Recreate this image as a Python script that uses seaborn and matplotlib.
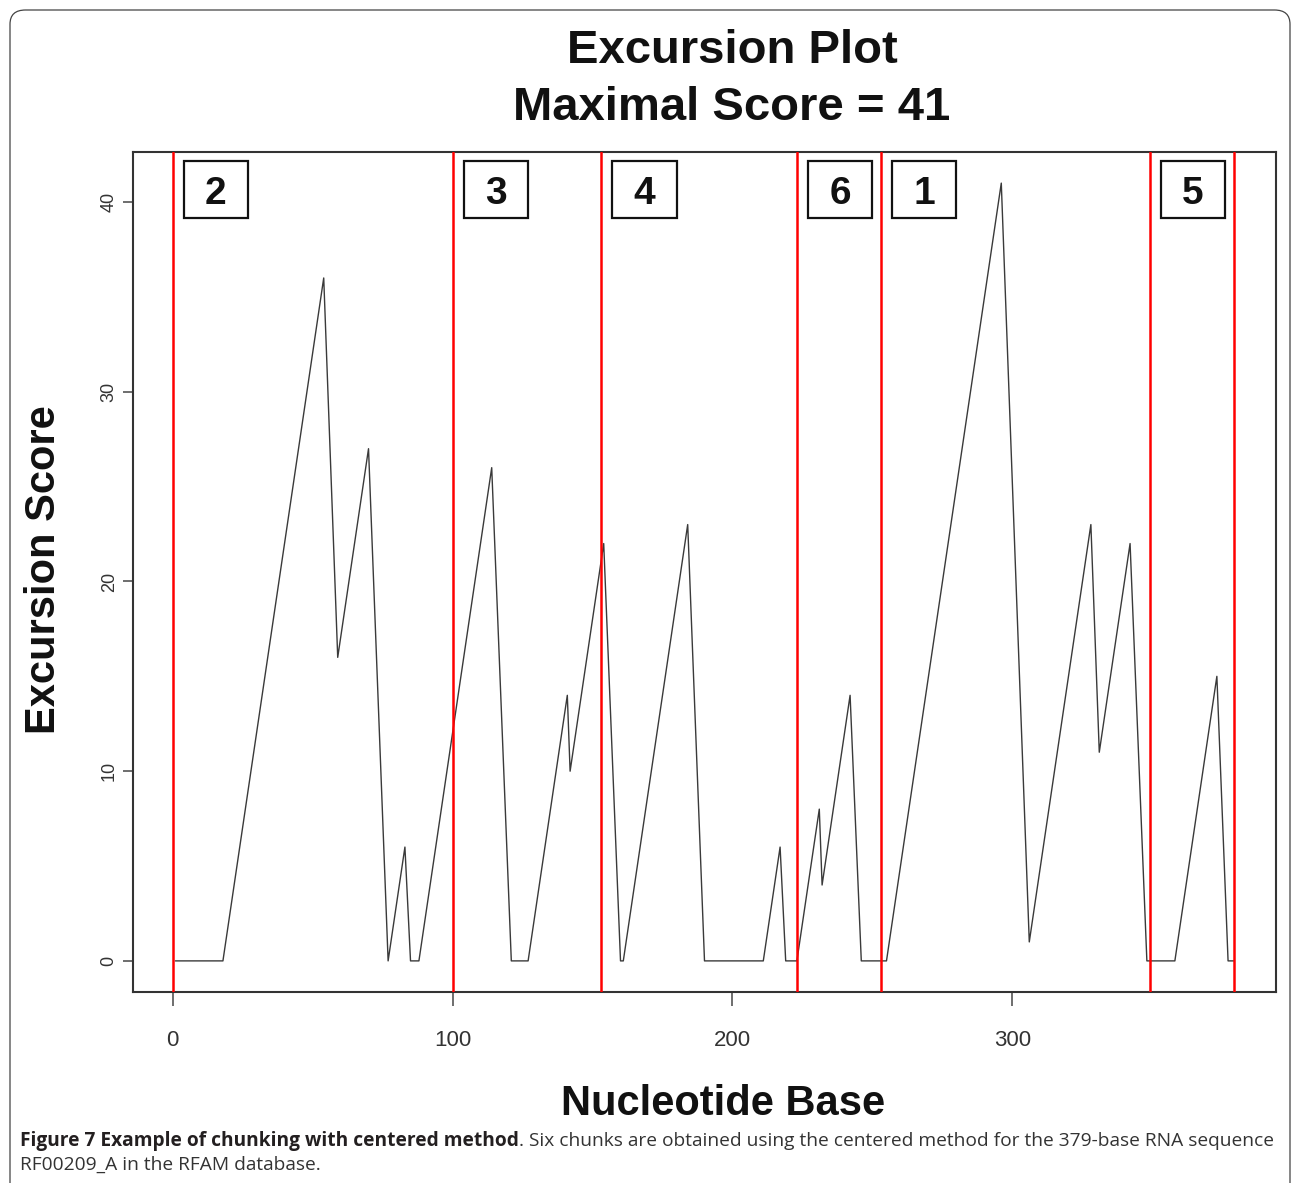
import matplotlib
matplotlib.use("Agg")
import matplotlib.pyplot as plt
import matplotlib.patches as mpatches
from matplotlib import font_manager as fm
import seaborn as sns
import pandas as pd

# ---- data (vertices of the excursion curve) ----
positions = [1, 18, 54, 59, 70, 77, 83, 85, 88, 114, 121, 127, 141, 142, 154,
             160, 161, 184, 190, 211, 217, 219, 223, 231, 232, 242, 246, 255,
             296, 306, 328, 331, 342, 348, 358, 373, 377, 379]
scores = [0, 0, 36, 16, 27, 0, 6, 0, 0, 26, 0, 0, 14, 10, 22,
          0, 0, 23, 0, 0, 6, 0, 0, 8, 4, 14, 0, 0,
          41, 1, 23, 11, 22, 0, 0, 15, 0, 0]
chunk_bounds = [0, 100, 153, 223, 253, 349, 379]
chunk_labels = ["2", "3", "4", "6", "1", "5"]
x_ticks = [0, 100, 200, 300]
y_ticks = [0, 10, 20, 30, 40]

title_lines = ["Excursion Plot", "Maximal Score = 41"]
x_label = "Nucleotide Base"
y_label = "Excursion Score"
caption_bold = "Figure 7 Example of chunking with centered method"
caption_rest = ". Six chunks are obtained using the centered method for the 379-base RNA sequence"
caption_line2 = "RF00209_A in the RFAM database."

sns.set_style("ticks")
avail = {f.name for f in fm.fontManager.ttflist}
main_font = "Liberation Sans" if "Liberation Sans" in avail else "DejaVu Sans"
narrow_font = "Liberation Sans Narrow" if "Liberation Sans Narrow" in avail else main_font
cap_font = "Open Sans" if "Open Sans" in avail else main_font
plt.rcParams["font.family"] = [main_font, "DejaVu Sans"]

W, H = 1293, 1183
fig = plt.figure(figsize=(W / 100, H / 100), dpi=100)
fig.patch.set_facecolor("white")
ax = fig.add_axes([133 / W, 1 - 992 / H, (1276 - 133) / W, (992 - 152) / H])

df = pd.DataFrame({"pos": positions, "score": scores})
sns.lineplot(data=df, x="pos", y="score", ax=ax, color="#3a3a3a", linewidth=1.0,
             sort=False, estimator=None)

for b in chunk_bounds:
    ax.axvline(b, color="#ff0000", linewidth=1.8, zorder=3)

xmin, xmax = min(positions), max(positions)
xr = (xmax - xmin) * 0.04
ax.set_xlim(xmin - xr, xmax + xr)
ymin, ymax = min(scores), max(scores)
yr = (ymax - ymin) * 0.04
ax.set_ylim(ymin - yr, ymax + yr)

# chunk number boxes
for b, lab in zip(chunk_bounds[:-1], chunk_labels):
    x0 = b + 4
    ax.add_patch(mpatches.Rectangle((x0, 39.15), 23.0, 3.02, facecolor="white",
                                    edgecolor="#111111", linewidth=1.6, zorder=4))
    ax.text(x0 + 11.5, 40.45, lab, ha="center", va="center", fontsize=28,
            fontweight="bold", color="#111111", zorder=5, family=main_font)

ax.set_xticks(x_ticks)
ax.set_yticks(y_ticks)
ax.set_xticklabels([str(v) for v in x_ticks], fontsize=16, family=narrow_font,
                   color="#333333")
ax.set_yticklabels([str(v) for v in y_ticks], fontsize=13, color="#333333",
                   rotation=90, va="center")
ax.tick_params(axis="x", length=10, width=1.2, color="#555555", pad=17)
ax.tick_params(axis="y", length=7, width=1.2, color="#555555", pad=4)
for sp in ax.spines.values():
    sp.set_visible(True)
    sp.set_color("#333333")
    sp.set_linewidth(1.5)
ax.set_xlabel("")
ax.set_ylabel("")

# titles and axis labels
fig.text(732 / W, 1 - 63 / H, title_lines[0], ha="center", va="baseline",
         fontsize=34, fontweight="bold", color="#111111")
fig.text(732 / W, 1 - 120 / H, title_lines[1], ha="center", va="baseline",
         fontsize=34, fontweight="bold", color="#111111")
fig.text(723 / W, 1 - 1115 / H, x_label, ha="center", va="baseline",
         fontsize=30, fontweight="bold", color="#111111")
fig.text(44 / W, 1 - 570 / H, y_label, ha="center", va="center", rotation=90,
         fontsize=30, fontweight="bold", color="#111111")

# rounded frame around the figure
frame = mpatches.FancyBboxPatch((10 / W, -0.05), (1290 - 10) / W, 1.05 - 10 / H,
                                boxstyle="round,pad=0,rounding_size=0.012",
                                transform=fig.transFigure, facecolor="none",
                                edgecolor="#444444", linewidth=0.9)
fig.patches.append(frame)

# caption
fig.canvas.draw()
renderer = fig.canvas.get_renderer()
cs = 12.5
t1 = fig.text(20 / W, 1 - 1146 / H, caption_bold, ha="left", va="baseline",
              fontsize=cs, fontweight="bold", family=cap_font, color="#231f20")
t2 = fig.text(0, 1 - 1146 / H, caption_rest, ha="left", va="baseline",
              fontsize=cs, family=cap_font, color="#333333")
bb1 = t1.get_window_extent(renderer)
bb2 = t2.get_window_extent(renderer)
total = bb1.width + bb2.width
scale = (1278 - 20) / total
cs2 = cs * scale
t1.set_fontsize(cs2)
t2.set_fontsize(cs2)
bb1 = t1.get_window_extent(renderer)
t2.set_x((20 + bb1.width) / W)
fig.text(20 / W, 1 - 1170 / H, caption_line2, ha="left", va="baseline",
         fontsize=cs2, family=cap_font, color="#333333")

fig.savefig("out.png", dpi=100, facecolor="white")
